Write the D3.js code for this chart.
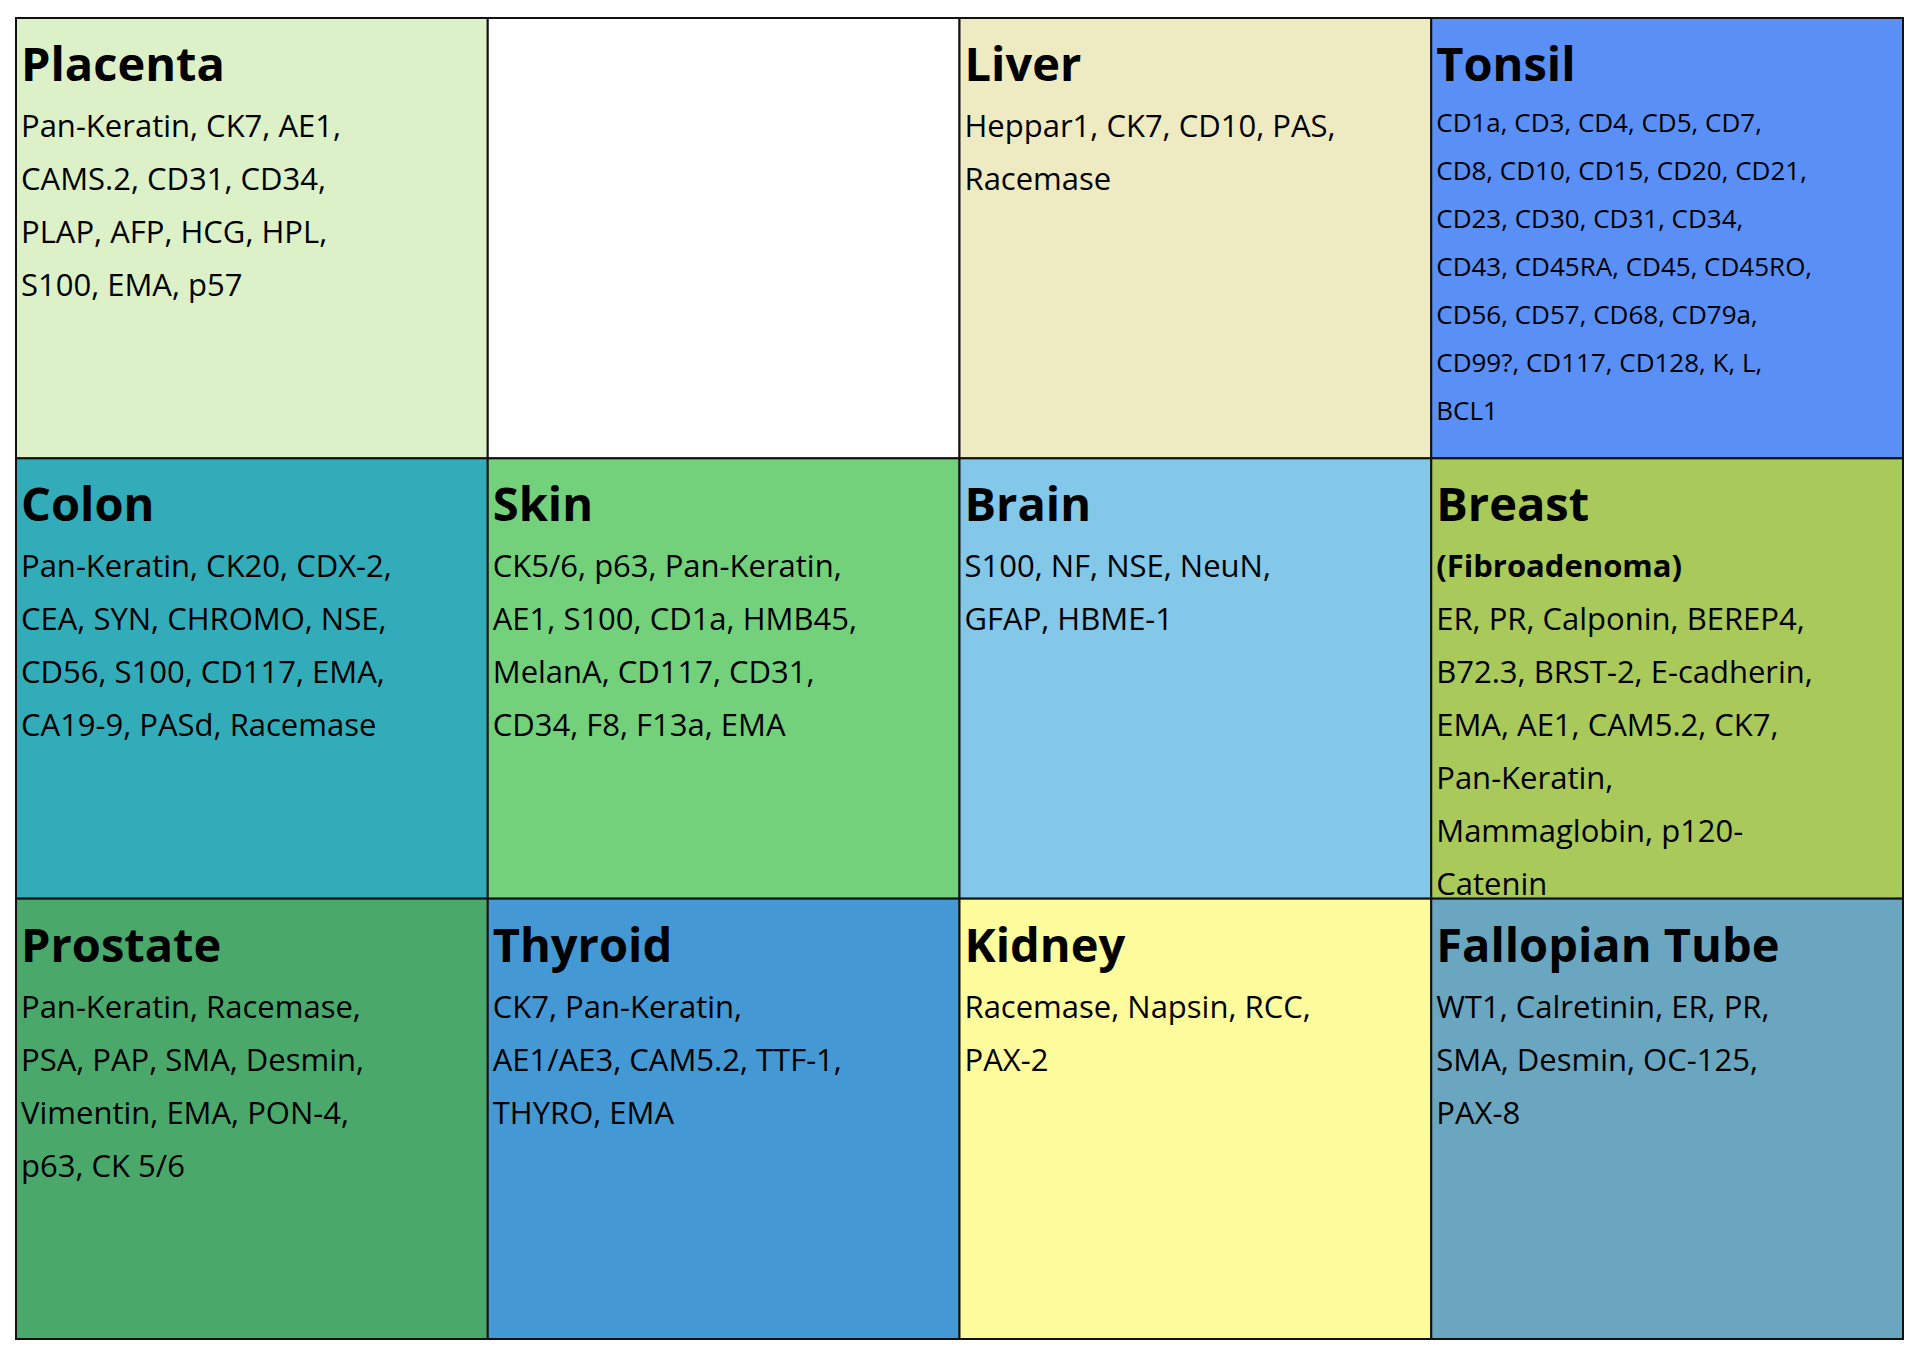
<!DOCTYPE html>
<html><head><meta charset="utf-8">
<script src="https://cdn.jsdelivr.net/npm/d3@7"></script>
<style>body{margin:0;background:#fff;}</style>
</head><body><div id="chart"></div>
<script>
// tissue panels, row by row
const tissues = ["Placenta", "", "Liver", "Tonsil",
  "Colon", "Skin", "Brain", "Breast",
  "Prostate", "Thyroid", "Kidney", "Fallopian Tube"];
const subtitles = ["", "", "", "", "", "", "", "(Fibroadenoma)", "", "", "", ""];
const fills = ["#ddf1c8", "#ffffff", "#eeebc3", "#5a8ff6",
  "#33acb9", "#73d07b", "#83c7e9", "#a9c95a",
  "#4ba86b", "#4498d3", "#fefb9d", "#6ba6c1"];
const markers = [
  ["Pan-Keratin, CK7, AE1,", "CAMS.2, CD31, CD34,", "PLAP, AFP, HCG, HPL,", "S100, EMA, p57"],
  [],
  ["Heppar1, CK7, CD10, PAS,", "Racemase"],
  ["CD1a, CD3, CD4, CD5, CD7,", "CD8, CD10, CD15, CD20, CD21,", "CD23, CD30, CD31, CD34,", "CD43, CD45RA, CD45, CD45RO,", "CD56, CD57, CD68, CD79a,", "CD99?, CD117, CD128, K, L,", "BCL1"],
  ["Pan-Keratin, CK20, CDX-2,", "CEA, SYN, CHROMO, NSE,", "CD56, S100, CD117, EMA,", "CA19-9, PASd, Racemase"],
  ["CK5/6, p63, Pan-Keratin,", "AE1, S100, CD1a, HMB45,", "MelanA, CD117, CD31,", "CD34, F8, F13a, EMA"],
  ["S100, NF, NSE, NeuN,", "GFAP, HBME-1"],
  ["ER, PR, Calponin, BEREP4,", "B72.3, BRST-2, E-cadherin,", "EMA, AE1, CAM5.2, CK7,", "Pan-Keratin,", "Mammaglobin, p120-", "Catenin"],
  ["Pan-Keratin, Racemase,", "PSA, PAP, SMA, Desmin,", "Vimentin, EMA, PON-4,", "p63, CK 5/6"],
  ["CK7, Pan-Keratin,", "AE1/AE3, CAM5.2, TTF-1,", "THYRO, EMA"],
  ["Racemase, Napsin, RCC,", "PAX-2"],
  ["WT1, Calretinin, ER, PR,", "SMA, Desmin, OC-125,", "PAX-8"]
];
const nCols = 4, nRows = 3;

const W = 1920, H = 1360;
const svg = d3.select("#chart").append("svg").attr("width", W).attr("height", H)
  .style("font-family", "'Open Sans', 'Noto Sans', sans-serif");

const x = d3.scaleLinear().domain([0, nCols]).range([16, 1903]);
const y = d3.scaleLinear().domain([0, nRows]).range([18, 1339]);

const cells = svg.selectAll("g.cell").data(tissues).join("g").attr("class", "cell")
  .attr("transform", (d, i) => `translate(${x(i % nCols)},${y(Math.floor(i / nCols))})`);

cells.append("rect")
  .attr("width", x(1) - x(0)).attr("height", y(1) - y(0))
  .attr("fill", (d, i) => fills[i]).attr("stroke", "#111").attr("stroke-width", 2);

cells.append("text").attr("x", 5).attr("y", 63)
  .style("font-size", "47px").style("font-weight", "bold").attr("fill", "#000")
  .attr("textLength", function(d){ return null; })
  .text(d => d);

cells.each(function(d, i){
  const g = d3.select(this);
  const small = markers[i].length > 6;
  let start = small ? 114 : 119;
  const step = small ? 48 : 53;
  const fs = small ? 26 : 31;
  if(subtitles[i]){
    g.append("text").attr("x", 5).attr("y", start)
      .style("font-size", fs + "px").style("font-weight", "bold").text(subtitles[i]);
    start += step;
  }
  markers[i].forEach((line, li) => {
    g.append("text").attr("x", 5).attr("y", start + li * step)
      .style("font-size", fs + "px").attr("fill", "#000").text(line);
  });
});

// squeeze any line that would run past its cell
svg.selectAll("text").each(function(){
  const w = this.getComputedTextLength();
  const max = x(1) - x(0) - 9;
  if(w > max) d3.select(this).attr("textLength", max).attr("lengthAdjust", "spacingAndGlyphs");
});
</script>
</body></html>
